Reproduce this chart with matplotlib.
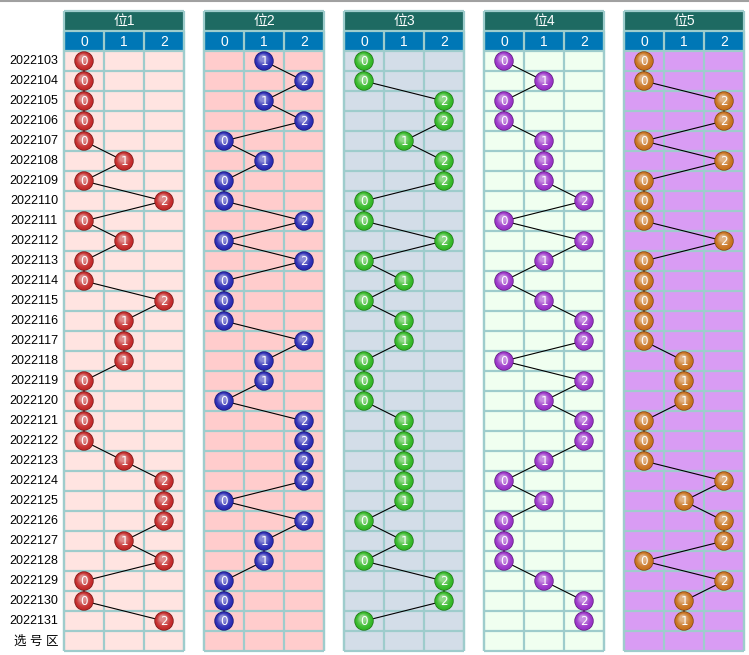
import matplotlib
matplotlib.use("Agg")
import matplotlib.pyplot as plt
from matplotlib.patches import Rectangle, Circle
from matplotlib.colors import to_rgb
import numpy as np

plt.rcParams['font.family'] = ['Liberation Sans', 'Noto Sans CJK SC', 'DejaVu Sans']

periods = ['2022103', '2022104', '2022105', '2022106', '2022107', '2022108',
           '2022109', '2022110', '2022111', '2022112', '2022113', '2022114',
           '2022115', '2022116', '2022117', '2022118', '2022119', '2022120',
           '2022121', '2022122', '2022123', '2022124', '2022125', '2022126',
           '2022127', '2022128', '2022129', '2022130', '2022131']
group_names = ['位1', '位2', '位3', '位4', '位5']
digits = ['0', '1', '2']

pos1 = [0, 0, 0, 0, 0, 1, 0, 2, 0, 1, 0, 0, 2, 1, 1, 1, 0, 0, 0, 0, 1, 2, 2, 2, 1, 2, 0, 0, 2]
pos2 = [1, 2, 1, 2, 0, 1, 0, 0, 2, 0, 2, 0, 0, 0, 2, 1, 1, 0, 2, 2, 2, 2, 0, 2, 1, 1, 0, 0, 0]
pos3 = [0, 0, 2, 2, 1, 2, 2, 0, 0, 2, 0, 1, 0, 1, 1, 0, 0, 0, 1, 1, 1, 1, 1, 0, 1, 0, 2, 2, 0]
pos4 = [0, 1, 0, 0, 1, 1, 1, 2, 0, 2, 1, 0, 1, 2, 2, 0, 2, 1, 2, 2, 1, 0, 1, 0, 0, 0, 1, 2, 2]
pos5 = [0, 0, 2, 2, 0, 2, 0, 0, 0, 2, 0, 0, 0, 0, 0, 1, 1, 1, 0, 0, 0, 2, 1, 2, 2, 0, 2, 1, 1]
series = [pos1, pos2, pos3, pos4, pos5]

bg_colors = ['#ffe4e1', '#ffcccc', '#d3dde8', '#f0fff0', '#d99cf4']
ball_colors = ['#c42a2a', '#2a2ab4', '#33b826', '#9a33c8', '#c8721e']

# layout in pixels
W, H = 749, 655
left0, gstep, cw = 64, 140, 40
top_head, hh = 11, 20
top_rows, rh = 51, 20
grid_c = '#9ecccc'

fig = plt.figure(figsize=(W / 100, H / 100), dpi=100)
ax = fig.add_axes([0, 0, 1, 1])
ax.set_xlim(0, W)
ax.set_ylim(H, 0)
ax.axis('off')

ax.axhline(0.5, color='#a0a0a0', lw=1.5)

nrows = len(periods) + 1
bottom = top_rows + nrows * rh


def lighten(c, f):
    r = np.array(to_rgb(c))
    return tuple(r + (1 - r) * f)


def darken(c, f):
    return tuple(np.array(to_rgb(c)) * (1 - f))


def ball(x, y, col, txt):
    ax.add_patch(Circle((x, y), 9.7, fc=darken(col, 0.35), ec='none', zorder=4))
    for i, f in enumerate(np.linspace(0, 1, 7)):
        rad = 8.9 * (1 - 0.6 * f)
        ax.add_patch(Circle((x - 1.2 * f, y - 2.5 * f), rad,
                            fc=lighten(col, 0.45 * f ** 1.5), ec='none', zorder=5 + i * 0.01))
    ax.text(x, y + 0.5, txt, color='white', ha='center', va='center',
            fontsize=9.5, family='DejaVu Sans', fontstretch='condensed', zorder=6)


for g in range(5):
    gl = left0 + g * gstep
    gr = gl + 3 * cw
    # headers
    ax.add_patch(Rectangle((gl, top_head), 3 * cw, hh, fc='#1e6a62', ec='none', zorder=1))
    ax.add_patch(Rectangle((gl, top_head + hh), 3 * cw, hh, fc='#0077b6', ec='none', zorder=1))
    ax.text(gl + 1.5 * cw, top_head + hh / 2 + 0.5, group_names[g], color='white',
            ha='center', va='center', fontsize=10, zorder=3)
    for k, d in enumerate(digits):
        ax.text(gl + cw * (k + 0.5), top_head + 1.5 * hh + 0.5, d, color='white',
                ha='center', va='center', fontsize=10, zorder=3)
    # body
    ax.add_patch(Rectangle((gl, top_rows), 3 * cw, nrows * rh, fc=bg_colors[g], ec='none', zorder=1))
    ax.vlines([gl + cw * k for k in range(4)], top_head + hh, bottom, color=grid_c, lw=1.6, zorder=2)
    ax.vlines([gl, gr], top_head, bottom, color=grid_c, lw=1.6, zorder=2)
    ax.hlines([top_head, top_head + hh] + [top_rows + rh * r for r in range(nrows + 1)],
              gl, gr, color=grid_c, lw=1.6, zorder=2)
    # trend line and balls
    vals = series[g]
    xs = [gl + cw * (v + 0.5) for v in vals]
    ys = [top_rows + rh * (r + 0.5) for r in range(len(vals))]
    ax.plot(xs, ys, color='black', lw=0.8, zorder=3)
    for x, y, v in zip(xs, ys, vals):
        ball(x, y, ball_colors[g], str(v))

for r, p in enumerate(periods + ['选 号 区']):
    ax.text(58, top_rows + rh * (r + 0.5) + 0.5, p, ha='right', va='center',
            fontsize=9, color='black')

fig.savefig('out.png', dpi=100)
